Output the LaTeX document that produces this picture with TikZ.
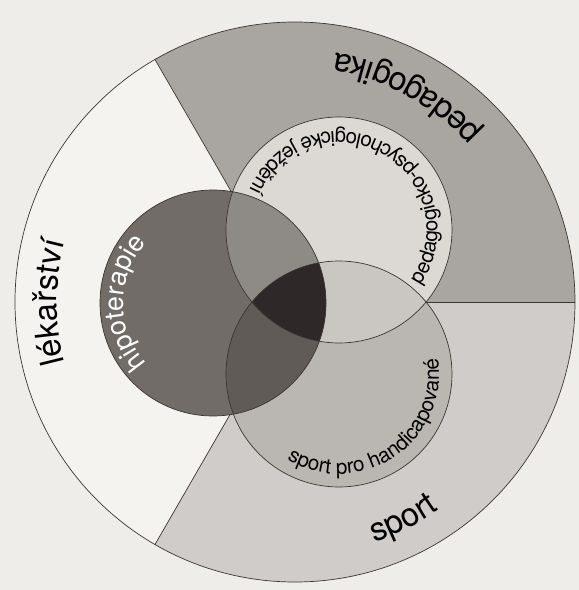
\documentclass[tikz,border=0pt]{standalone}
\usepackage{fontspec}
\setmainfont{TeX Gyre Heros}
\usetikzlibrary{calc,decorations.text}

\definecolor{paper}{HTML}{EFEDEA}
\definecolor{medcol}{HTML}{F5F3F0}
\definecolor{pedcol}{HTML}{A9A5A1}
\definecolor{sportcol}{HTML}{CFCCC9}
\definecolor{pedin}{HTML}{DCD9D5}
\definecolor{sportin}{HTML}{BAB6B2}
\definecolor{hipcol}{HTML}{716C67}
\definecolor{hipped}{HTML}{8E8A85}
\definecolor{hipsport}{HTML}{605B56}
\definecolor{pedsport}{HTML}{CAC6C2}
\definecolor{allthree}{HTML}{2E2828}
\definecolor{edge}{HTML}{3A3634}

\begin{document}
\begin{tikzpicture}[
    outline/.style={draw=edge, line width=0.4pt}
  ]
  % frame of the scanned page
  \useasboundingbox (-5.9,-5.76) rectangle (5.68,6.04);
  \fill[paper] (-5.9,-5.76) rectangle (5.68,6.04);

  % centres
  \coordinate (O) at (0,0);
  \coordinate (ped) at (0.88,1.44);
  \coordinate (spt) at (0.88,-1.44);
  \coordinate (hip) at (-1.64,-0.02);

  % outer sectors
  \fill[pedcol] (O) -- (0:5.6) arc[start angle=0, end angle=120, radius=5.6] -- cycle;
  \fill[medcol] (O) -- (120:5.6) arc[start angle=120, end angle=240, radius=5.6] -- cycle;
  \fill[sportcol] (O) -- (240:5.6) arc[start angle=240, end angle=360, radius=5.6] -- cycle;
  \draw[outline] (O) -- (0:5.6);
  \draw[outline] (O) -- (120:5.6);
  \draw[outline] (O) -- (240:5.6);
  \draw[outline] (O) circle (5.6);

  % inner circles
  \fill[pedin] (ped) circle (2.26);
  \fill[sportin] (spt) circle (2.26);
  \fill[hipcol] (hip) circle (2.26);

  % overlaps
  \begin{scope}
    \clip (ped) circle (2.26);
    \fill[pedsport] (spt) circle (2.26);
  \end{scope}
  \begin{scope}
    \clip (hip) circle (2.26);
    \fill[hipped] (ped) circle (2.26);
  \end{scope}
  \begin{scope}
    \clip (hip) circle (2.26);
    \fill[hipsport] (spt) circle (2.26);
  \end{scope}
  \begin{scope}
    \clip (hip) circle (2.26);
    \clip (ped) circle (2.26);
    \fill[allthree] (spt) circle (2.26);
  \end{scope}

  \draw[outline] (ped) circle (2.26);
  \draw[outline] (spt) circle (2.26);
  \draw[outline] (hip) circle (2.26);

  % outer labels
  \path[decorate, decoration={text along path, text align=center,
      text={|\fontsize{18.7}{22}\selectfont|pedagogika}}]
    (21.5:5.04) arc[start angle=21.5, end angle=101.5, radius=5.04];
  \path[decorate, decoration={text along path, text align=center,
      text={|\fontsize{18.7}{22}\selectfont|lékařství}}]
    (230:4.76) arc[start angle=230, end angle=130, radius=4.76];
  \path[decorate, decoration={text along path, text align=center,
      text={|\fontsize{18.7}{22}\selectfont|sport}}]
    (-103.5:5.06) arc[start angle=-103.5, end angle=-23.5, radius=5.06];

  % inner labels
  \path[decorate, decoration={text along path, text align=center,
      text={|\fontsize{11.8}{14}\selectfont|pedagogicko-psychologické ježdění}}]
    ($(ped)+(-59:1.97)$) arc[start angle=-59, end angle=181, radius=1.97];
  \path[decorate, decoration={text along path, text align=center,
      text={|\fontsize{11.8}{14}\selectfont|sport pro handicapované}}]
    ($(spt)+(-176:2.0)$) arc[start angle=-176, end angle=64, radius=2.0];
  \path[decorate, decoration={text along path, text align=center, text color=white,
      text={|\fontsize{15.3}{18}\selectfont|hipoterapie}}]
    ($(hip)+(250:1.8)$) arc[start angle=250, end angle=110, radius=1.8];
\end{tikzpicture}
\end{document}
